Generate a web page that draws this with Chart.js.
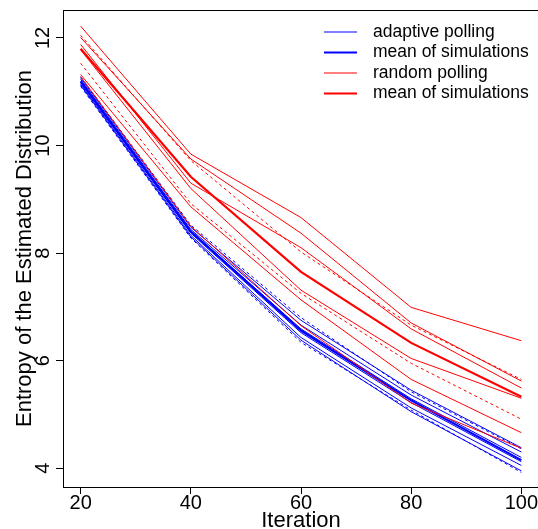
<!DOCTYPE html>
<html>
<head>
<meta charset="utf-8">
<script src="https://cdn.jsdelivr.net/npm/chart.js@4/dist/chart.umd.min.js"></script>
<style>
  html, body { margin: 0; padding: 0; background: #fff; overflow: hidden; }
  #wrap { width: 538px; height: 529px; overflow: hidden; }
</style>
</head>
<body>
<div id="wrap"><canvas id="c" width="546" height="529"></canvas></div>
<script>
const iterations = [20, 40, 60, 80, 100];

// adaptive polling: single simulations, mean and dashed band
const adaptiveRuns = [
  [11.26, 8.48, 6.75, 5.45, 4.38],
  [11.23, 8.44, 6.66, 5.36, 4.30],
  [11.20, 8.41, 6.59, 5.29, 4.20],
  [11.17, 8.37, 6.52, 5.22, 4.12],
  [11.14, 8.33, 6.43, 5.12, 4.05],
  [11.12, 8.30, 6.38, 5.05, 3.95]
];
const adaptiveMean = [11.19, 8.40, 6.56, 5.26, 4.15];
const adaptiveUpper = [11.28, 8.52, 6.80, 5.42, 4.36];
const adaptiveLower = [11.10, 8.28, 6.34, 5.08, 3.92];

// random polling: single simulations, mean and dashed band
const randomRuns = [
  [12.22, 9.84, 8.66, 6.99, 6.37],
  [12.01, 9.75, 8.37, 6.70, 5.62],
  [11.88, 9.30, 8.10, 6.59, 5.49],
  [11.78, 9.20, 7.31, 6.04, 5.30],
  [11.32, 8.86, 7.13, 5.65, 4.66],
  [11.28, 8.50, 6.65, 5.21, 4.37]
];
const randomMean = [11.80, 9.42, 7.65, 6.33, 5.33];
const randomUpper = [12.05, 9.72, 8.02, 6.66, 5.65];
const randomLower = [11.53, 8.92, 7.25, 5.95, 4.91];

const yTicks = [4, 6, 8, 10, 12];
const legendItems = [
  {label: "adaptive polling", color: "#0000ff", width: 1},
  {label: "mean of simulations", color: "#0000ff", width: 2.2},
  {label: "random polling", color: "#ff0000", width: 1},
  {label: "mean of simulations", color: "#ff0000", width: 2.2}
];

const FONT = '"Liberation Sans", Arial, Helvetica, sans-serif';

const toPoints = values => values.map((v, i) => ({x: iterations[i], y: v}));

const line = (values, color, width, dash) => ({
  data: toPoints(values),
  borderColor: color,
  borderWidth: width,
  borderDash: dash || [],
  pointRadius: 0,
  tension: 0,
  fill: false
});

const datasets = [];
randomRuns.forEach(r => datasets.push(line(r, "#ff0000", 1)));
datasets.push(line(randomMean, "#ff0000", 2.2));
datasets.push(line(randomUpper, "#ff0000", 1, [3, 3]));
datasets.push(line(randomLower, "#ff0000", 1, [3, 3]));
adaptiveRuns.forEach(r => datasets.push(line(r, "#0000ff", 1)));
datasets.push(line(adaptiveMean, "#0000ff", 2.2));
datasets.push(line(adaptiveUpper, "#0000ff", 1, [3, 3]));
datasets.push(line(adaptiveLower, "#0000ff", 1, [3, 3]));

// box, tick labels, axis titles and legend drawn R-style
const rStyle = {
  id: "rStyle",
  afterDraw(chart) {
    const ctx = chart.ctx;
    const a = chart.chartArea;
    const xs = chart.scales.x, ys = chart.scales.y;
    ctx.save();
    ctx.strokeStyle = "#000";
    ctx.lineWidth = 1;
    ctx.strokeRect(a.left + 0.5, a.top + 0.5, a.right - a.left, a.bottom - a.top);

    ctx.fillStyle = "#000";
    ctx.font = "20px " + FONT;
    ctx.textAlign = "center";
    ctx.textBaseline = "middle";
    iterations.forEach(v => ctx.fillText(String(v), xs.getPixelForValue(v), a.bottom + 16));
    yTicks.forEach(v => {
      ctx.save();
      ctx.translate(a.left - 20, ys.getPixelForValue(v));
      ctx.rotate(-Math.PI / 2);
      ctx.fillText(String(v), 0, 0);
      ctx.restore();
    });

    ctx.font = "22px " + FONT;
    ctx.fillText("Iteration", (a.left + a.right) / 2, a.bottom + 34);
    ctx.save();
    ctx.translate(25, (a.top + a.bottom) / 2);
    ctx.rotate(-Math.PI / 2);
    ctx.fillText("Entropy of the Estimated Distribution", 0, 0);
    ctx.restore();

    ctx.font = "17.5px " + FONT;
    ctx.textAlign = "left";
    legendItems.forEach((it, i) => {
      const y = 32 + i * 20.5;
      ctx.strokeStyle = it.color;
      ctx.lineWidth = it.width;
      ctx.beginPath();
      ctx.moveTo(324, y);
      ctx.lineTo(357, y);
      ctx.stroke();
      ctx.fillText(it.label, 373, y);
    });
    ctx.restore();
  }
};

new Chart(document.getElementById("c"), {
  type: "line",
  data: {datasets: datasets},
  options: {
    responsive: false,
    animation: false,
    devicePixelRatio: 1,
    layout: {padding: {top: 10, right: 7, left: 0, bottom: 0}},
    plugins: {legend: {display: false}, tooltip: {enabled: false}},
    scales: {
      x: {
        type: "linear",
        min: 16.8,
        max: 103.2,
        afterBuildTicks: s => { s.ticks = iterations.map(v => ({value: v})); },
        afterFit: s => { s.height = 42; },
        ticks: {display: false},
        border: {display: false},
        grid: {drawOnChartArea: false, drawTicks: true, tickLength: 7, color: "#000"}
      },
      y: {
        type: "linear",
        min: 3.65,
        max: 12.52,
        afterBuildTicks: s => { s.ticks = yTicks.map(v => ({value: v})); },
        afterFit: s => { s.width = 63; },
        ticks: {display: false},
        border: {display: false},
        grid: {drawOnChartArea: false, drawTicks: true, tickLength: 7, color: "#000"}
      }
    }
  },
  plugins: [rStyle]
});
</script>
</body>
</html>
